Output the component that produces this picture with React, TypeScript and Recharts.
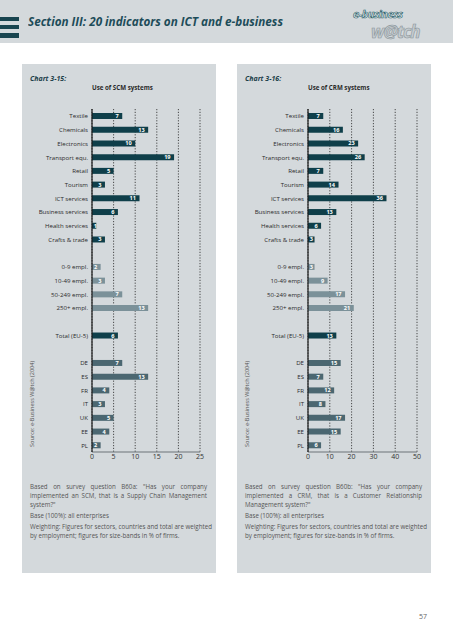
import React from 'react';
import { BarChart, Bar, XAxis, YAxis, CartesianGrid, Cell, LabelList } from 'recharts';

// ---- data ----
const sectors = ['Textile', 'Chemicals', 'Electronics', 'Transport equ.', 'Retail', 'Tourism', 'ICT services', 'Business services', 'Health services', 'Crafts & trade'];
const sizeBands = ['0-9 empl.', '10-49 empl.', '50-249 empl.', '250+ empl.'];
const totalLabel = 'Total (EU-5)';
const countries = ['DE', 'ES', 'FR', 'IT', 'UK', 'EE', 'PL'];

const scmSector = [7, 13, 10, 19, 5, 3, 11, 6, 1, 3];
const scmSize = [2, 3, 7, 13];
const scmTotal = 6;
const scmCountry = [7, 13, 4, 3, 5, 4, 2];

const crmSector = [7, 16, 23, 26, 7, 14, 36, 13, 6, 3];
const crmSize = [3, 9, 17, 21];
const crmTotal = 13;
const crmCountry = [15, 7, 12, 8, 17, 15, 6];

const scmTicks = [0, 5, 10, 15, 20, 25];
const crmTicks = [0, 10, 20, 30, 40, 50];

const COLORS: Record<string, string> = {
  sector: '#0f3f4a',
  size: '#7b9199',
  total: '#0f3f4a',
  country: '#4b6771',
  gap: 'transparent',
};

type Row = { name: string; v: number | null; group: string };

function build(sec: number[], size: number[], total: number, ctry: number[]): Row[] {
  const rows: Row[] = [];
  sectors.forEach((n, i) => rows.push({ name: n, v: sec[i], group: 'sector' }));
  rows.push({ name: '_gap1', v: null, group: 'gap' });
  sizeBands.forEach((n, i) => rows.push({ name: n, v: size[i], group: 'size' }));
  rows.push({ name: '_gap2', v: null, group: 'gap' });
  rows.push({ name: totalLabel, v: total, group: 'total' });
  rows.push({ name: '_gap3', v: null, group: 'gap' });
  countries.forEach((n, i) => rows.push({ name: n, v: ctry[i], group: 'country' }));
  return rows;
}

const scmRows = build(scmSector, scmSize, scmTotal, scmCountry);
const crmRows = build(crmSector, crmSize, crmTotal, crmCountry);

const FONT = '"Open Sans", "Liberation Sans", sans-serif';

const YTick = (props: any) => {
  const { x, y, payload } = props;
  const t = String(payload.value);
  if (t.startsWith('_gap')) return null;
  return (
    <text x={x} y={y} textAnchor="end" dominantBaseline="central" fontSize={6.1} fill="#2a2a2a" fontFamily={FONT}>
      {t}
    </text>
  );
};

const BarLabel = (props: any) => {
  const { x, y, width, height, value } = props;
  if (value == null) return null;
  const tx = Math.max(x + width - 3.5, x + 5);
  return (
    <text x={tx} y={y + height / 2} textAnchor="end" dominantBaseline="central" fontSize={5.6} fontWeight="bold" fill="#ffffff" fontFamily={FONT}>
      {value}
    </text>
  );
};

function Chart({ rows, max, ticks, yWidth, right }: { rows: Row[]; max: number; ticks: number[]; yWidth: number; right: number }) {
  return (
    <BarChart width={194} height={370} data={rows} layout="vertical" margin={{ top: 9, right, bottom: 0, left: 0 }} barCategoryGap={0}>
      <CartesianGrid horizontal={false} vertical stroke="#222" strokeDasharray="1.2 1.6" strokeWidth={0.8} />
      <XAxis
        type="number"
        domain={[0, max]}
        ticks={ticks}
        interval={0}
        height={18}
        axisLine={{ stroke: '#6d7479', strokeWidth: 1.2 }}
        tickLine={false}
        tickSize={1}
        tickMargin={1}
        tick={{ fontSize: 7, fill: '#333', fontFamily: FONT }}
      />
      <YAxis
        type="category"
        dataKey="name"
        width={yWidth}
        interval={0}
        axisLine={{ stroke: '#1a1a1a', strokeWidth: 1.2 }}
        tickLine={false}
        tickSize={4}
        tickMargin={0}
        tick={<YTick />}
      />
      <Bar dataKey="v" barSize={6} isAnimationActive={false}>
        {rows.map((r, i) => (
          <Cell key={i} fill={COLORS[r.group]} />
        ))}
        <LabelList dataKey="v" content={<BarLabel />} />
      </Bar>
    </BarChart>
  );
}

const textStyle: React.CSSProperties = {
  fontFamily: FONT,
  fontSize: 6.2,
  color: '#555',
  lineHeight: '9px',
  position: 'absolute',
  width: 177,
};

const jl: React.CSSProperties = { textAlign: 'justify', textAlignLast: 'justify', whiteSpace: 'nowrap' };
const nl: React.CSSProperties = { whiteSpace: 'nowrap' };

function Panel({ left, chartNo, title, rows, max, ticks, yWidth, right, q }: any) {
  return (
    <div style={{ position: 'absolute', left, top: 64, width: 194, height: 509, background: '#d4d9dc' }}>
      <div style={{ position: 'absolute', left: 8, top: 10, fontFamily: FONT, fontSize: 7, fontWeight: 'bold', fontStyle: 'italic', color: '#1c3f4a' }}>{chartNo}</div>
      <div style={{ position: 'absolute', left: yWidth, top: 19, fontFamily: FONT, fontSize: 6.2, fontWeight: 'bold', color: '#2a2a2a' }}>{title}</div>
      <div style={{ position: 'absolute', left: 0, top: 36 }}>
        <Chart rows={rows} max={max} ticks={ticks} yWidth={yWidth} right={right} />
      </div>
      <div style={{ position: 'absolute', left: 6, top: 383, transform: 'rotate(-90deg)', transformOrigin: '0 0', fontFamily: FONT, fontSize: 5.6, color: '#555', whiteSpace: 'nowrap' }}>
        Source: e-Business W@tch (2004)
      </div>
      <div style={{ ...textStyle, left: 8, top: 418 }}>
        <div style={jl}>{q[0]}</div>
        <div style={jl}>{q[1]}</div>
        <div style={nl}>{q[2]}</div>
        <div style={{ ...nl, marginTop: 2 }}>Base (100%): all enterprises</div>
        <div style={{ ...jl, marginTop: 2 }}>Weighting: Figures for sectors, countries and total are weighted</div>
        <div style={nl}>by employment; figures for size-bands in % of firms.</div>
      </div>
    </div>
  );
}

export default function App() {
  return (
    <div style={{ position: 'absolute', left: 0, top: 0, width: 453, height: 640, background: '#ffffff', overflow: 'hidden' }}>
      <div style={{ position: 'absolute', left: 0, top: 0, width: 453, height: 43, background: '#d4d9dc' }} />
      <div style={{ position: 'absolute', left: 0, top: 17, width: 19, height: 4, background: '#18444f' }} />
      <div style={{ position: 'absolute', left: 0, top: 25, width: 19, height: 4, background: '#18444f' }} />
      <div style={{ position: 'absolute', left: 0, top: 33, width: 19, height: 5, background: '#18444f' }} />
      <div style={{ position: 'absolute', left: 28, top: 12, fontFamily: FONT, fontSize: 13, fontWeight: 'bold', fontStyle: 'italic', color: '#1d4c59', whiteSpace: 'nowrap', transform: 'scaleX(0.9)', transformOrigin: '0 0' }}>
        Section III: 20 indicators on ICT and e-business
      </div>
      <div style={{ position: 'absolute', left: 353, top: 7, fontFamily: FONT, fontSize: 11, lineHeight: '14px', fontWeight: 'bold', fontStyle: 'italic', color: '#e8eef0', WebkitTextStroke: '0.6px #1d5a66', letterSpacing: -0.5 }}>
        e-business
      </div>
      <div style={{ position: 'absolute', left: 371, top: 22, fontFamily: FONT, fontSize: 17, lineHeight: '20px', fontWeight: 'bold', fontStyle: 'italic', color: '#c5ccd0', WebkitTextStroke: '0.6px #8a9499', letterSpacing: -1 }}>
        w@tch
      </div>
      <Panel
        left={22}
        chartNo="Chart 3-15:"
        title="Use of SCM systems"
        rows={scmRows}
        max={25}
        ticks={scmTicks}
        yWidth={70}
        right={16}
        q={['Based on survey question B60a: "Has your company', 'implemented an SCM, that is a Supply Chain Management', 'system?"']}
      />
      <Panel
        left={237}
        chartNo="Chart 3-16:"
        title="Use of CRM systems"
        rows={crmRows}
        max={50}
        ticks={crmTicks}
        yWidth={71}
        right={14}
        q={['Based on survey question B60b: "Has your company', 'implemented a CRM, that is a Customer Relationship', 'Management system?"']}
      />
      <div style={{ position: 'absolute', left: 419, top: 612, fontFamily: FONT, fontSize: 7, color: '#666' }}>57</div>
    </div>
  );
}
